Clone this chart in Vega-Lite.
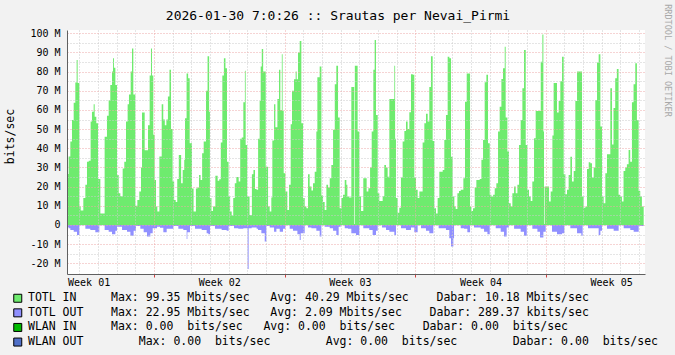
{
  "$schema": "https://vega.github.io/schema/vega-lite/v6.json",
  "width": 578,
  "height": 244,
  "autosize": {"type": "none"},
  "padding": {"left": 67, "top": 30, "right": 30, "bottom": 81},
  "background": "#F2F2F2",
  "title": {
    "text": "2026-01-30 7:0:26 :: Srautas per Nevai_Pirmi",
    "font": "DejaVu Sans Mono",
    "fontSize": 13,
    "fontWeight": "normal",
    "color": "#000000",
    "anchor": "middle",
    "frame": "group",
    "dx": -18,
    "baseline": "alphabetic",
    "offset": 0,
    "dy": 29
  },
  "config": {
    "view": {"fill": "#FFFFFF", "stroke": null},
    "axis": {
      "labelFont": "DejaVu Sans Mono",
      "titleFont": "DejaVu Sans Mono",
      "titleFontWeight": "normal",
      "labelColor": "#000000",
      "titleColor": "#000000",
      "labelFlush": false,
      "labelOverlap": false
    }
  },
  "datasets": {
    "tin": [
      {"t":8.2,"v":26.6},{"t":10.3,"v":35.7},{"t":12.5,"v":43.5},{"t":14.6,"v":54.8},{"t":16.8,"v":63.8},{"t":18.9,"v":74.3},{"t":20.6,"v":86},{"t":21.9,"v":74},
      {"t":24.1,"v":9.6},{"t":25.8,"v":7.5},{"t":29.2,"v":14},{"t":31.8,"v":21},{"t":33.9,"v":33},{"t":36.1,"v":33.5},{"t":38.6,"v":54},{"t":40.3,"v":59},{"t":42.5,"v":63},{"t":43.8,"v":56.5},{"t":45.9,"v":53},
      {"t":48.1,"v":24},{"t":51.1,"v":6},{"t":56.6,"v":46},{"t":59.6,"v":57},{"t":61.8,"v":65},{"t":63.9,"v":73},{"t":66.1,"v":80},{"t":67.4,"v":87},{"t":68.6,"v":82},{"t":70.4,"v":73},
      {"t":72.5,"v":26},{"t":74.7,"v":16.5},{"t":76.8,"v":15},{"t":79.8,"v":29.5},{"t":81.9,"v":33},{"t":84.1,"v":54},{"t":86.2,"v":63},{"t":87.9,"v":68},{"t":90.1,"v":80},{"t":91.8,"v":92},{"t":93.5,"v":68},
      {"t":96.1,"v":10},{"t":98.7,"v":13},{"t":101.2,"v":17.4},{"t":103.4,"v":30},{"t":104.7,"v":58.6},{"t":108.1,"v":39},{"t":112.4,"v":52},{"t":114.5,"v":78},{"t":116.2,"v":92},{"t":117.5,"v":78},{"t":119.2,"v":47},
      {"t":120.9,"v":23.5},{"t":122.7,"v":9.6},{"t":124.4,"v":7},{"t":127,"v":35.7},{"t":130,"v":63},{"t":132,"v":55},{"t":134,"v":52},{"t":136,"v":55},{"t":138,"v":67},{"t":140,"v":81},{"t":142,"v":50},
      {"t":144,"v":22.6},{"t":146,"v":13},{"t":148,"v":12},{"t":150,"v":24},{"t":152,"v":36.5},{"t":155,"v":21.7},{"t":157,"v":28.7},{"t":159,"v":34},{"t":160,"v":55.6},{"t":162,"v":79},{"t":164,"v":76.5},{"t":166,"v":42.6},
      {"t":169,"v":19},{"t":171,"v":7},{"t":174,"v":19},{"t":176,"v":19.5},{"t":178,"v":26},{"t":180,"v":23.5},{"t":182,"v":37.4},{"t":184,"v":43.5},{"t":187,"v":70},{"t":189,"v":88},{"t":191,"v":59},
      {"t":192,"v":14},{"t":194,"v":7.3},{"t":196,"v":9.6},{"t":199,"v":25.7},{"t":202,"v":23},{"t":204,"v":23.8},{"t":206,"v":43},{"t":208,"v":78},{"t":210,"v":87},{"t":212,"v":81.7},{"t":214,"v":33},
      {"t":216,"v":14.8},{"t":218,"v":7},{"t":220,"v":4.9},{"t":222,"v":14},{"t":224,"v":21.7},{"t":226,"v":25},{"t":229,"v":22.6},{"t":231,"v":45},{"t":233,"v":45.6},{"t":235,"v":64},{"t":237,"v":80.5},{"t":238,"v":41.7},
      {"t":240,"v":14.8},{"t":243,"v":5.2},{"t":246,"v":26.4},{"t":248,"v":28.7},{"t":250,"v":18.8},{"t":252,"v":18.3},{"t":254,"v":45},{"t":256,"v":64.7},{"t":257.3,"v":82.6},{"t":258.7,"v":91.8},{"t":260.5,"v":80},
      {"t":263.8,"v":30.4},{"t":266.8,"v":9.6},{"t":268.9,"v":7},{"t":271,"v":14.3},{"t":272.3,"v":44},{"t":274.5,"v":63},{"t":276.2,"v":51},{"t":278.8,"v":65.7},{"t":280.9,"v":81},{"t":282.6,"v":60},{"t":284.5,"v":89},{"t":285.5,"v":59.5},
      {"t":286.9,"v":27},{"t":289.1,"v":17.4},{"t":291.6,"v":7.8},{"t":293.8,"v":21},{"t":295.9,"v":52.5},{"t":297.6,"v":70},{"t":300.2,"v":76},{"t":302.3,"v":80},{"t":303.6,"v":76},{"t":305.3,"v":90},{"t":307.5,"v":96},{"t":309.6,"v":53},
      {"t":311.8,"v":14},{"t":313.9,"v":9.6},{"t":316.1,"v":8.7},{"t":318.2,"v":26.4},{"t":320.3,"v":20},{"t":322.6,"v":18},{"t":324.6,"v":21.7},{"t":326.8,"v":27.8},{"t":328.9,"v":48.7},{"t":330.2,"v":77},{"t":333.2,"v":82.6},
      {"t":335.4,"v":15.3},{"t":337.5,"v":12},{"t":339.6,"v":7.8},{"t":341.8,"v":21},{"t":344,"v":19.5},{"t":346.1,"v":24.3},{"t":348.2,"v":31.3},{"t":350.4,"v":49.6},{"t":352.6,"v":73.4},{"t":354.6,"v":83},{"t":356.8,"v":56},
      {"t":358.9,"v":8.7},{"t":361.1,"v":14},{"t":363.2,"v":15.7},{"t":365.4,"v":23.5},{"t":367.5,"v":21},{"t":368.8,"v":14.8},{"t":371,"v":14.3},{"t":373.9,"v":72},{"t":377.6,"v":0.5},{"t":378.4,"v":83},{"t":382,"v":48.7},
      {"t":384.2,"v":14.8},{"t":386.4,"v":7.3},{"t":389.3,"v":24.3},{"t":393.6,"v":17.4},{"t":395.8,"v":19.1},{"t":398,"v":29.9},{"t":400.1,"v":48.7},{"t":402.2,"v":81},{"t":403.9,"v":96.5},{"t":405.6,"v":57.4},
      {"t":407.8,"v":16.5},{"t":409.9,"v":12.5},{"t":414.2,"v":15},{"t":416.3,"v":31.3},{"t":418.5,"v":30},{"t":420.6,"v":25.2},{"t":422.8,"v":65.7},{"t":429.2,"v":83},{"t":430.2,"v":45},
      {"t":431.3,"v":14},{"t":433.5,"v":6.4},{"t":435.6,"v":9},{"t":437.7,"v":24.7},{"t":439.9,"v":43.5},{"t":442.1,"v":49},{"t":444.2,"v":54},{"t":446.3,"v":50},{"t":448.5,"v":58.8},{"t":450.6,"v":78.6},{"t":452.9,"v":78.3},
      {"t":454.9,"v":24.7},{"t":457.1,"v":18.3},{"t":459.2,"v":14},{"t":461.4,"v":17.4},{"t":465.6,"v":43},{"t":467.8,"v":53},{"t":469.9,"v":58},{"t":472.1,"v":54},{"t":474.2,"v":72},{"t":476.3,"v":88},{"t":478.5,"v":43.8},
      {"t":480.6,"v":8.7},{"t":482.8,"v":6},{"t":484.9,"v":14},{"t":487.1,"v":27.8},{"t":491.4,"v":28.7},{"t":493.5,"v":44.3},{"t":495.6,"v":57.4},{"t":497.8,"v":87.8},{"t":500,"v":87},{"t":502.1,"v":35.6},
      {"t":504.2,"v":14.8},{"t":506.4,"v":9.6},{"t":508.1,"v":8.3},{"t":510.3,"v":16.5},{"t":512.4,"v":17.7},{"t":514.6,"v":18.3},{"t":518,"v":24.3},{"t":520.1,"v":64.3},{"t":522.3,"v":79},
      {"t":526.6,"v":9.6},{"t":528.3,"v":7.3},{"t":530.4,"v":8.7},{"t":532.6,"v":19.5},{"t":534.7,"v":23.5},{"t":539,"v":24},{"t":541.2,"v":34},{"t":543.3,"v":44.3},{"t":545.4,"v":74.4},{"t":547.6,"v":78.3},{"t":549.7,"v":42.6},
      {"t":551.9,"v":15.7},{"t":554,"v":14.8},{"t":556.2,"v":15.7},{"t":558.3,"v":19.1},{"t":560.4,"v":21.7},{"t":562.6,"v":48.7},{"t":564.7,"v":61.7},{"t":566.9,"v":76.2},{"t":569,"v":81.7},{"t":571.2,"v":93},{"t":572.4,"v":56},{"t":574.6,"v":38.3},
      {"t":576.7,"v":11.3},{"t":578.9,"v":9.6},{"t":581,"v":16.5},{"t":583.2,"v":20},{"t":585.3,"v":16.5},{"t":587.5,"v":21},{"t":589.6,"v":41.7},{"t":591.7,"v":54.8},{"t":593.9,"v":71.3},{"t":596,"v":91.3},{"t":598.2,"v":41.7},
      {"t":600.3,"v":18.3},{"t":602.4,"v":14.8},{"t":604.6,"v":12.5},{"t":606.7,"v":22.6},{"t":608.9,"v":45.2},{"t":611,"v":59.5},{"t":617.5,"v":85.2},{"t":619.6,"v":99.35},{"t":620.9,"v":48.7},{"t":621.7,"v":0.5},
      {"t":622.5,"v":20},{"t":628.2,"v":12.2},{"t":630.3,"v":17.4},{"t":632.5,"v":46.6},{"t":634.1,"v":74},{"t":638.4,"v":58.6},{"t":640.6,"v":64.7},{"t":642.7,"v":75},{"t":644.9,"v":87.8},
      {"t":647,"v":26.4},{"t":649.2,"v":16},{"t":651.3,"v":18.3},{"t":653.4,"v":26},{"t":655.6,"v":35.6},{"t":657.7,"v":22.6},{"t":659.9,"v":28.2},{"t":662,"v":64.7},{"t":664.2,"v":80},
      {"t":670.6,"v":14.8},{"t":672.7,"v":9},{"t":674.9,"v":9.6},{"t":677,"v":29.2},{"t":679.2,"v":32.7},{"t":681.3,"v":32.2},{"t":683.4,"v":24.7},{"t":685.6,"v":30},{"t":687.7,"v":65.2},{"t":689.9,"v":84.7},{"t":692,"v":89},{"t":694.2,"v":51.3},
      {"t":696.3,"v":14.8},{"t":698.4,"v":11.3},{"t":700.6,"v":27},{"t":702.7,"v":36.9},{"t":707,"v":71.3},{"t":709.2,"v":42},{"t":711.1,"v":61},{"t":713.3,"v":76.5},{"t":715.4,"v":81.4},
      {"t":717.6,"v":15.7},{"t":719.7,"v":14.8},{"t":721.9,"v":12.2},{"t":724,"v":28.2},{"t":726.2,"v":30},{"t":728.3,"v":31.7},{"t":730.5,"v":39.1},{"t":732.6,"v":33},{"t":734.8,"v":64},{"t":736.9,"v":73.4},{"t":739.1,"v":84.3},{"t":741.2,"v":54.8},
      {"t":743.4,"v":17.7},{"t":745.5,"v":14.8},{"t":747.6,"v":9.6},{"t":749.9,"v":9.6}
    ],
    "tout": [
      {"t":8.2,"v":-1.2},{"t":10.3,"v":-1.7},{"t":12.5,"v":-2.6},{"t":16.8,"v":-3.5},{"t":21.1,"v":-5.2},{"t":24.1,"v":-0.2},{"t":31.8,"v":-2},{"t":38.2,"v":-2.6},{"t":44.6,"v":-3.8},
      {"t":49.8,"v":-0.2},{"t":56.6,"v":-2.6},{"t":61.8,"v":-3.5},{"t":66.1,"v":-4.9},{"t":70.4,"v":-3},{"t":72.5,"v":-0.9},{"t":79,"v":-2.6},{"t":85.4,"v":-3.5},{"t":89.7,"v":-5.6},{"t":93.9,"v":-3},
      {"t":96.9,"v":-0.5},{"t":102.5,"v":-2},{"t":106.8,"v":-3.8},{"t":111.1,"v":-6},{"t":115.4,"v":-4.3},{"t":118.4,"v":-1.7},{"t":124,"v":-0.9},{"t":127.8,"v":-1.5},{"t":132.1,"v":-3.8},{"t":136.4,"v":-2},
      {"t":145,"v":-0.5},{"t":151.4,"v":-2},{"t":157.8,"v":-2.6},{"t":162.1,"v":-7.3},{"t":163,"v":-3.8},{"t":166.4,"v":-0.5},{"t":172.8,"v":-2},{"t":181.4,"v":-2.6},{"t":187.8,"v":-4.3},{"t":190,"v":-4.9},
      {"t":192.1,"v":-0.5},{"t":198.5,"v":-2},{"t":207.1,"v":-2.6},{"t":213.5,"v":-3},{"t":216.1,"v":-0.5},{"t":223,"v":-1.7},{"t":228.5,"v":-2},{"t":235,"v":-1.7},{"t":240.5,"v":-22.95},{"t":241.8,"v":-1.7},
      {"t":245.7,"v":-1.4},{"t":252.1,"v":-2},{"t":253.9,"v":-2.6},{"t":258.2,"v":-4.3},{"t":262.5,"v":-8.7},{"t":264.6,"v":-0.5},{"t":268.9,"v":-1.4},{"t":274.5,"v":-3.5},{"t":277.5,"v":-2},{"t":281.8,"v":-3.5},
      {"t":286,"v":-2},{"t":289.1,"v":-0.2},{"t":294.6,"v":-2},{"t":298.9,"v":-3},{"t":304.5,"v":-4.9},{"t":307.5,"v":-7.8},{"t":308.8,"v":-4.3},{"t":313.9,"v":-0.2},{"t":318.2,"v":-1.4},{"t":322.5,"v":-1.7},
      {"t":328.9,"v":-3},{"t":333.2,"v":-6},{"t":335.4,"v":-0.2},{"t":339.6,"v":-0.9},{"t":346.1,"v":-1.7},{"t":350.4,"v":-3},{"t":354.6,"v":-5.2},{"t":357.6,"v":-0.9},{"t":360.2,"v":-0.2},{"t":365.4,"v":-1.7},
      {"t":369.6,"v":-2},{"t":373.9,"v":-4.3},{"t":379.9,"v":-5.2},{"t":384.2,"v":-0.2},{"t":389.3,"v":-1.7},{"t":397,"v":-2.6},{"t":401.3,"v":-5.2},{"t":405.6,"v":-3},{"t":407.8,"v":-0.2},{"t":413.3,"v":-1.4},
      {"t":418.5,"v":-2.6},{"t":422.8,"v":-3.5},{"t":429.2,"v":-5.2},{"t":431.3,"v":-0.2},{"t":437.8,"v":-1.7},{"t":444.2,"v":-2.6},{"t":450.6,"v":-1.4},{"t":454.9,"v":-3.8},{"t":459.2,"v":-0.2},{"t":463.5,"v":-1.7},
      {"t":469.9,"v":-3},{"t":474.2,"v":-4.3},{"t":479.4,"v":-0.2},{"t":486.2,"v":-1.7},{"t":495.6,"v":-2.6},{"t":499.9,"v":-7},{"t":502.1,"v":-11.3},{"t":505.1,"v":-7},{"t":506,"v":-0.2},{"t":514.6,"v":-1.7},
      {"t":518.9,"v":-2},{"t":523.1,"v":-3.8},{"t":526.6,"v":-0.2},{"t":531.7,"v":-1.4},{"t":540.3,"v":-2},{"t":544.6,"v":-3.5},{"t":548.9,"v":-4.9},{"t":551.9,"v":-0.2},{"t":559.6,"v":-1.7},{"t":566,"v":-3.5},
      {"t":570.3,"v":-6},{"t":573.7,"v":-1.4},{"t":576.7,"v":-0.2},{"t":583.2,"v":-2},{"t":591.7,"v":-3.5},{"t":596,"v":-5.6},{"t":599.5,"v":-0.2},{"t":606.7,"v":-2},{"t":613.2,"v":-3.5},{"t":616.6,"v":-6.6},
      {"t":620.9,"v":-3.5},{"t":623.9,"v":-0.2},{"t":632,"v":-3.5},{"t":638.4,"v":-4.9},{"t":644.9,"v":-4.3},{"t":647.9,"v":-0.2},{"t":655.6,"v":-1.7},{"t":664.2,"v":-4.3},{"t":669.7,"v":-5.6},{"t":671.4,"v":-0.2},
      {"t":678.3,"v":-1.7},{"t":692,"v":-5.2},{"t":694.2,"v":-3},{"t":696.3,"v":-0.2},{"t":702.7,"v":-2},{"t":711.3,"v":-3},{"t":717.7,"v":-0.2},{"t":724.2,"v":-1.7},{"t":732.7,"v":-2.6},{"t":737,"v":-3.5},
      {"t":743.5,"v":-0.6},{"t":749.9,"v":-0.6}
    ]
  },
  "resolve": {"axis": {"x": "independent", "y": "independent"}},
  "layer": [
    {
      "data": {"name": "tin"},
      "mark": {"type": "area", "interpolate": "step-after"},
      "encoding": {
        "x": {
          "field": "t", "type": "quantitative",
          "scale": {"domain": [8.2, 751.6], "nice": false, "zero": false},
          "axis": {
            "orient": "bottom",
            "values": [24,48,72,96,144,168,192,216,240,264,312,336,360,384,408,432,480,504,528,552,576,600,648,672,696,720,744],
            "grid": true, "gridColor": "#CACACA", "gridDash": [1,2], "gridWidth": 1,
            "labels": false, "ticks": false, "domain": false, "title": null, "zindex": 1
          }
        },
        "y": {
          "field": "v", "type": "quantitative",
          "scale": {"domain": [-25.6, 101.7], "nice": false, "zero": false},
          "axis": {
            "orient": "left",
            "values": [-15,-5,5,15,25,35,45,55,65,75,85,95],
            "grid": true, "gridColor": "#CACACA", "gridDash": [1,2], "gridWidth": 1,
            "labels": false, "ticks": false, "domain": false, "title": null, "zindex": 1
          }
        },
        "color": {
          "datum": "TOTL IN",
          "scale": {
            "domain": ["TOTL IN", "TOTL OUT", "WLAN IN", "WLAN OUT"],
            "range": ["#6EEB6E", "#9090FF", "#00BA00", "#5070C8"]
          },
          "legend": {
            "orient": "none",
            "legendX": -55,
            "legendY": 262.5,
            "direction": "vertical",
            "title": null,
            "padding": 0,
            "symbolType": "square",
            "symbolSize": 64,
            "symbolStrokeColor": "#000000",
            "symbolStrokeWidth": 1,
            "labelFont": "DejaVu Sans Mono",
            "labelFontSize": 11.5,
            "labelColor": "#000000",
            "labelOffset": 4.5,
            "labelLimit": 1000,
            "rowPadding": 1.6,
            "encode": {"symbols": {"update": {"stroke": {"value": "#000000"}, "strokeWidth": {"value": 1}}}},
            "labelExpr": "datum.label == 'TOTL IN' ? 'TOTL IN\u00a0\u00a0\u00a0\u00a0\u00a0Max: 99.35 Mbits/sec\u00a0\u00a0\u00a0Avg: 40.29 Mbits/sec\u00a0\u00a0\u00a0\u00a0Dabar: 10.18 Mbits/sec' : datum.label == 'TOTL OUT' ? 'TOTL OUT\u00a0\u00a0\u00a0\u00a0Max: 22.95 Mbits/sec\u00a0\u00a0\u00a0Avg: 2.09 Mbits/sec\u00a0\u00a0\u00a0\u00a0Dabar: 289.37 kbits/sec' : datum.label == 'WLAN IN' ? 'WLAN IN\u00a0\u00a0\u00a0\u00a0\u00a0Max: 0.00\u00a0\u00a0bits/sec\u00a0\u00a0\u00a0Avg: 0.00\u00a0\u00a0bits/sec\u00a0\u00a0\u00a0\u00a0Dabar: 0.00\u00a0\u00a0bits/sec' : 'WLAN OUT\u00a0\u00a0\u00a0\u00a0\u00a0\u00a0\u00a0\u00a0Max: 0.00\u00a0\u00a0bits/sec\u00a0\u00a0\u00a0\u00a0\u00a0\u00a0\u00a0\u00a0Avg: 0.00\u00a0\u00a0bits/sec\u00a0\u00a0\u00a0\u00a0\u00a0\u00a0\u00a0\u00a0Dabar: 0.00\u00a0\u00a0bits/sec'"
          }
        }
      }
    },
    {
      "data": {"name": "tout"},
      "mark": {"type": "area", "interpolate": "step-after"},
      "encoding": {
        "x": {
          "field": "t", "type": "quantitative",
          "axis": {
            "orient": "bottom",
            "values": [120, 288, 456, 624],
            "grid": true, "gridColor": "#EDA8A8", "gridDash": [1,2], "gridWidth": 1,
            "ticks": true, "tickColor": "#D04040", "tickSize": 3,
            "domain": true, "domainColor": "#606060",
            "labels": false, "title": null, "zindex": 1
          }
        },
        "y": {
          "field": "v", "type": "quantitative",
          "axis": {
            "orient": "left",
            "values": [-20,-10,0,10,20,30,40,50,60,70,80,90,100],
            "grid": true, "gridColor": "#EDA8A8", "gridDash": [1,2], "gridWidth": 1,
            "ticks": false, "domain": true, "domainColor": "#606060",
            "labelExpr": "datum.value == 0 ? '0' : datum.value + ' M'",
            "labelFontSize": 10, "labelPadding": 7, "labelBaseline": "middle",
            "title": "bits/sec", "titleAngle": 270, "titleX": -57, "titleY": 106,
            "titleFontSize": 11.5, "titleAlign": "center", "titleBaseline": "middle",
            "zindex": 1
          }
        },
        "color": {"datum": "TOTL OUT"}
      }
    },
    {
      "mark": {"type": "rule", "color": "#000000", "strokeWidth": 1.2},
      "encoding": {"y": {"datum": 0, "axis": null}}
    },
    {
      "mark": {"type": "point", "shape": "triangle-right", "filled": true, "size": 32, "color": "#8B1E1E", "opacity": 1},
      "encoding": {
        "x": {
          "datum": 755.5,
          "axis": {
            "orient": "bottom",
            "values": [36, 204, 372, 540, 708],
            "labelExpr": "'Week 0' + ((datum.value - 36) / 168 + 1)",
            "grid": false, "ticks": false, "domain": false,
            "labelFontSize": 10, "labelPadding": 3, "labelBaseline": "top",
            "title": null
          }
        },
        "y": {
          "datum": -25.6,
          "axis": {
            "orient": "right",
            "title": "RRDTOOL / TOBI OETIKER",
            "titleAngle": 90, "titleX": 22, "titleY": 30,
            "titleFontSize": 8.5, "titleColor": "#A8A8A8",
            "titleAlign": "center", "titleBaseline": "middle",
            "labels": false, "ticks": false, "domain": false, "grid": false
          }
        }
      }
    },
    {
      "mark": {"type": "point", "shape": "triangle-up", "filled": true, "size": 32, "color": "#8B1E1E", "opacity": 1},
      "encoding": {
        "x": {"datum": 8.2, "axis": null},
        "y": {"datum": 103.3, "axis": null}
      }
    }
  ]
}
